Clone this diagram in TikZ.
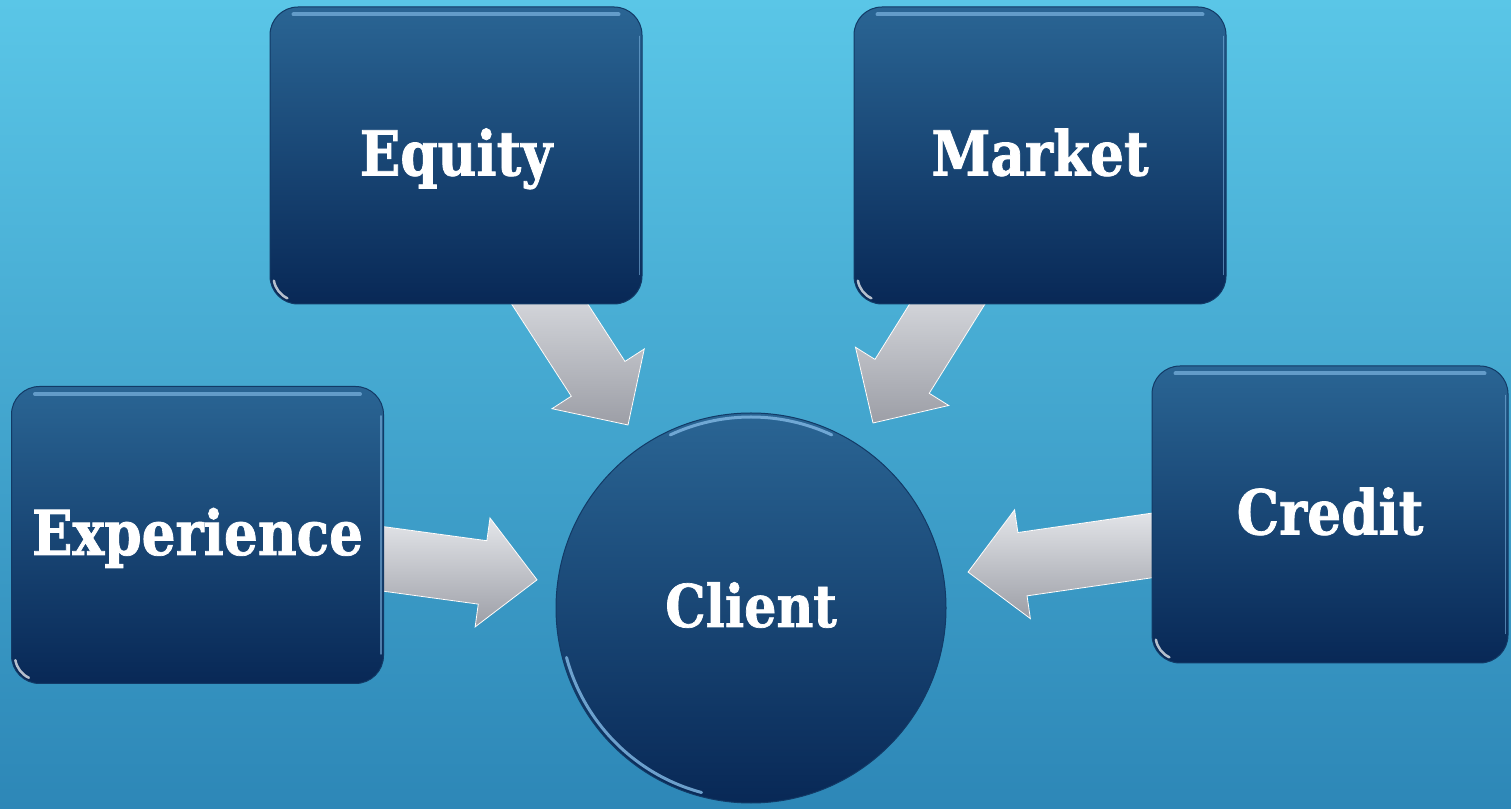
\documentclass[tikz,border=0pt]{standalone}
\usepackage{fontspec}
\newfontfamily\lab{DejaVu Serif}[FakeStretch=0.86, FakeBold=1.2]
\usetikzlibrary{calc}
\definecolor{bgTop}{HTML}{5AC6E7}
\definecolor{bgBot}{HTML}{2D87B7}
\definecolor{boxTop}{HTML}{2A6594}
\definecolor{boxBot}{HTML}{082856}
\definecolor{boxLine}{HTML}{123A66}
\definecolor{hiBlue}{HTML}{7DB4E0}
\definecolor{arrTop}{HTML}{E4E6EA}
\definecolor{arrBot}{HTML}{9C9EA6}
\pgfdeclarelayer{bg}\pgfdeclarelayer{arr}\pgfsetlayers{bg,arr,main}
\tikzset{
  box/.style={rectangle, rounded corners=28pt, minimum width=372pt, minimum height=297pt,
    inner sep=0pt, draw=boxLine, line width=1pt, top color=boxTop, bottom color=boxBot,
    text=white, text height=50pt, text depth=10pt,
    font=\lab\bfseries\fontsize{62}{70}\selectfont},
  hub/.style={circle, minimum size=390pt, inner sep=0pt, draw=boxLine, line width=1pt,
    top color=boxTop, bottom color=boxBot, text=white, text height=48pt, text depth=10pt,
    font=\lab\bfseries\fontsize{59}{66}\selectfont},
  blockarrow/.style={top color=arrTop, bottom color=arrBot, draw=white, line width=0.8pt, line join=miter},
  af/.style={shift={(\p1)}, rotate=\n1},
  hiline/.style={hiBlue, line width=4pt, opacity=0.7, line cap=round},
  hiside/.style={hiBlue, line width=1.5pt, opacity=0.6, line cap=round},
  glint/.style={white, line width=2.5pt, opacity=0.7, line cap=round},
  rim/.style={hiBlue, line width=3pt, opacity=0.85, line cap=round}
}
\newcommand\blockarr[2]{%
  \filldraw[blockarrow] let \p1=(#1), \p2=(#2), \n1={atan2(\y2-\y1,\x2-\x1)},
    \n2={veclen(\x2-\x1,\y2-\y1)} in
    ([af]-30,-32) -- ([af]{\n2-55},-32) -- ([af]{\n2-55},-55) -- ([af]\n2,0)
    -- ([af]{\n2-55},55) -- ([af]{\n2-55},32) -- ([af]-30,32) -- cycle;}
\newcommand\gloss[1]{%
  \draw[hiline] ([xshift=24pt,yshift=-8pt]#1.north west) -- ([xshift=-24pt,yshift=-8pt]#1.north east);
  \draw[hiside] ([xshift=-3pt,yshift=-30pt]#1.north east) -- ([xshift=-3pt,yshift=30pt]#1.south east);
  \draw[glint] ([xshift=4.4pt,yshift=23.8pt]#1.south west) arc[start angle=190, end angle=245, radius=24pt];}
\begin{document}
\begin{tikzpicture}[x=1pt, y=1pt]
\begin{pgfonlayer}{bg}
  \shade[top color=bgTop, bottom color=bgBot] (0,0) rectangle (1511,808);
\end{pgfonlayer}
\useasboundingbox (0,0) rectangle (1511,808);

\node[box] (eq) at (456,652.5) {Equity};
\node[box] (mk) at (1040,652.5) {Market};
\node[box] (ex) at (197.5,273) {Experience};
\node[box, minimum width=356pt] (cr) at (1330,293.5) {Credit};
\node[hub] (cl) at (751,200) {Client};

\gloss{eq}\gloss{mk}\gloss{ex}\gloss{cr}
\draw[rim] ($(cl.center)+(195:191pt)$) arc[start angle=195, end angle=255, radius=191pt];
\draw[rim] ($(cl.center)+(65:191pt)$) arc[start angle=65, end angle=115, radius=191pt];

\coordinate (sEq) at ([xshift=94pt]eq.south);
\coordinate (sMk) at ([xshift=-93pt]mk.south);
\coordinate (sEx) at ([yshift=-24pt]ex.east);
\coordinate (sCr) at ([yshift=-31pt]cr.west);
\coordinate (tEq) at ($(cl.center)+(123.9:220.5pt)$);
\coordinate (tMk) at ($(cl.center)+(56.6:221.6pt)$);
\coordinate (tEx) at ($(cl.center)+(172.5:215.8pt)$);
\coordinate (tCr) at ($(cl.center)+(9.4:220pt)$);

\begin{pgfonlayer}{arr}
  \blockarr{sEq}{tEq}
  \blockarr{sMk}{tMk}
  \blockarr{sEx}{tEx}
  \blockarr{sCr}{tCr}
\end{pgfonlayer}
\end{tikzpicture}
\end{document}
